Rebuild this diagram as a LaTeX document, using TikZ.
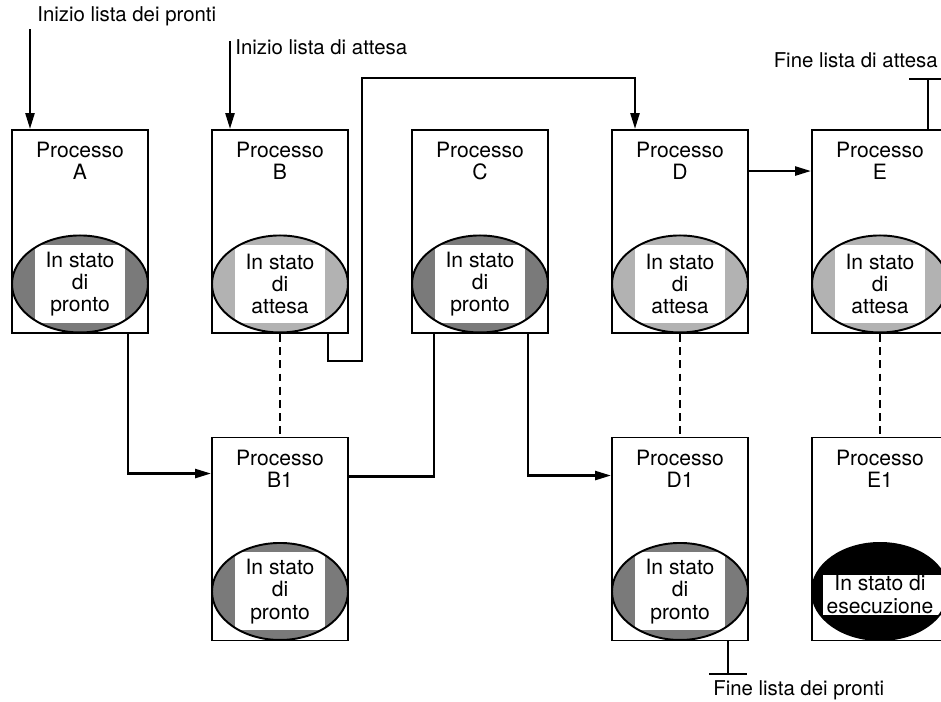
\documentclass[tikz,border=0pt]{standalone}
\usepackage{fontspec}
\setmainfont{TeX Gyre Heros}
\usetikzlibrary{arrows.meta,positioning,calc,shapes.geometric}

\begin{document}
\begin{tikzpicture}[
    proc/.style={rectangle, draw, line width=1.1pt, minimum width=2.72cm, minimum height=4.06cm, inner sep=0pt},
    nome/.style={anchor=north, align=center, inner sep=0pt, font=\fontsize{12}{12.6}\selectfont},
    testo/.style={align=center, inner sep=0pt, font=\fontsize{12}{12.6}\selectfont},
    stato/.style={ellipse, draw, line width=1.1pt, minimum width=2.72cm, minimum height=1.94cm, inner sep=0pt},
    pronto/.style={stato, fill=black!52, path picture={\fill[white] ($(path picture bounding box.center)+(-0.9,-0.78)$) rectangle ++(1.8,1.56);}},
    attesa/.style={stato, fill=black!30, path picture={\fill[white] ($(path picture bounding box.center)+(-0.9,-0.78)$) rectangle ++(1.8,1.56);}},
    esecuzione/.style={stato, fill=black, path picture={\fill[white] ($(path picture bounding box.center)+(-1.14,-0.48)$) rectangle ++(2.44,0.8);}},
    lista/.style={inner sep=0pt, font=\fontsize{11.6}{12}\selectfont},
    arrow/.style={-{Triangle[length=3.2mm,width=1.8mm]}, line width=1.4pt},
    linea/.style={line width=1.4pt},
    fine/.style={-{Bar[width=7.5mm,line width=1.4pt]}, line width=1.4pt},
    tratto/.style={dashed, dash pattern=on 4.5pt off 3pt, line width=1.2pt}
]
\clip (0,0) rectangle (18.82,14.02);

% Processi - riga superiore
\node[proc] (A) at (1.6,9.39) {};
\node[proc] (B) at (5.6,9.39) {};
\node[proc] (C) at (9.6,9.39) {};
\node[proc] (D) at (13.6,9.39) {};
\node[proc] (E) at (17.6,9.39) {};

% Processi - riga inferiore
\node[proc] (B1) at (5.6,3.24) {};
\node[proc] (D1) at (13.6,3.24) {};
\node[proc] (E1) at (17.6,3.24) {};

% Nomi dei processi
\node[nome] (nA) at ([yshift=-0.26cm]A.north) {Processo\\A};
\node[nome] (nB) at ([yshift=-0.26cm]B.north) {Processo\\B};
\node[nome] (nC) at ([yshift=-0.26cm]C.north) {Processo\\C};
\node[nome] (nD) at ([yshift=-0.26cm]D.north) {Processo\\D};
\node[nome] (nE) at ([yshift=-0.26cm]E.north) {Processo\\E};
\node[nome] (nB1) at ([yshift=-0.26cm]B1.north) {Processo\\B1};
\node[nome] (nD1) at ([yshift=-0.26cm]D1.north) {Processo\\D1};
\node[nome] (nE1) at ([yshift=-0.26cm]E1.north) {Processo\\E1};

% Stati
\node[pronto] (sA) at ([yshift=1.0cm]A.south) {};
\node[testo] (tA) at (sA) {In stato\\di\\pronto};
\node[attesa] (sB) at ([yshift=1.0cm]B.south) {};
\node[testo] (tB) at (sB) {In stato\\di\\attesa};
\node[pronto] (sC) at ([yshift=1.0cm]C.south) {};
\node[testo] (tC) at (sC) {In stato\\di\\pronto};
\node[attesa] (sD) at ([yshift=1.0cm]D.south) {};
\node[testo] (tD) at (sD) {In stato\\di\\attesa};
\node[attesa] (sE) at ([yshift=1.0cm]E.south) {};
\node[testo] (tE) at (sE) {In stato\\di\\attesa};
\node[pronto] (sB1) at ([yshift=1.0cm]B1.south) {};
\node[testo] (tB1) at (sB1) {In stato\\di\\pronto};
\node[pronto] (sD1) at ([yshift=1.0cm]D1.south) {};
\node[testo] (tD1) at (sD1) {In stato\\di\\pronto};
\node[esecuzione] (sE1) at ([yshift=1.0cm]E1.south) {};
\node[testo] (tE1) at ([yshift=-0.06cm]sE1) {In stato di\\esecuzione};

% Inizio e fine delle liste
\coordinate (iniA) at ([xshift=-1.0cm,yshift=2.0cm]A.north);
\node[lista, anchor=base west] (lpronti) at ([xshift=0.14cm,yshift=0.16cm]iniA) {Inizio lista dei pronti};
\draw[arrow] (iniA) -- (iniA |- A.north);

\coordinate (iniB) at ([xshift=-1.0cm,yshift=1.76cm]B.north);
\node[lista, anchor=base west] (lattesa) at ([xshift=0.1cm,yshift=-0.26cm]iniB) {Inizio lista di attesa};
\draw[arrow] (iniB) -- (iniB |- B.north);

\coordinate (fineE) at ([xshift=0.96cm,yshift=1.02cm]E.north);
\draw[fine] ([xshift=0.96cm]E.north) -- (fineE);
\node[lista, anchor=base east] (lfineE) at ([xshift=0.2cm,yshift=0.22cm]fineE) {Fine lista di attesa};

\coordinate (fineD1) at ([xshift=0.96cm,yshift=-0.68cm]D1.south);
\draw[fine] ([xshift=0.96cm]D1.south) -- (fineD1);
\node[lista, anchor=north west] (lfineD1) at ([xshift=-0.3cm,yshift=-0.1cm]fineD1) {Fine lista dei pronti};

% Collegamenti lista dei pronti
\draw[arrow] ([xshift=0.96cm]A.south) |- ([yshift=-0.74cm]B1.north west);
\draw[linea] ([yshift=-0.8cm]B1.north east) -| ([xshift=-0.92cm]C.south);
\draw[arrow] ([xshift=0.96cm]C.south) |- ([yshift=-0.78cm]D1.north west);

% Collegamenti lista di attesa
\coordinate (sopraD) at ([xshift=-0.9cm,yshift=1.02cm]D.north);
\draw[arrow] ([xshift=0.96cm]B.south) -- ++(0,-0.54) -- ++(0.68,0) |- (sopraD) -- (sopraD |- D.north);
\draw[arrow] ([yshift=-0.84cm]D.north east) -- ([yshift=-0.84cm]E.north west);

% Legami tratteggiati
\draw[tratto] (B.south) -- (B1.north);
\draw[tratto] (D.south) -- (D1.north);
\draw[tratto] (E.south) -- (E1.north);

\end{tikzpicture}
\end{document}
